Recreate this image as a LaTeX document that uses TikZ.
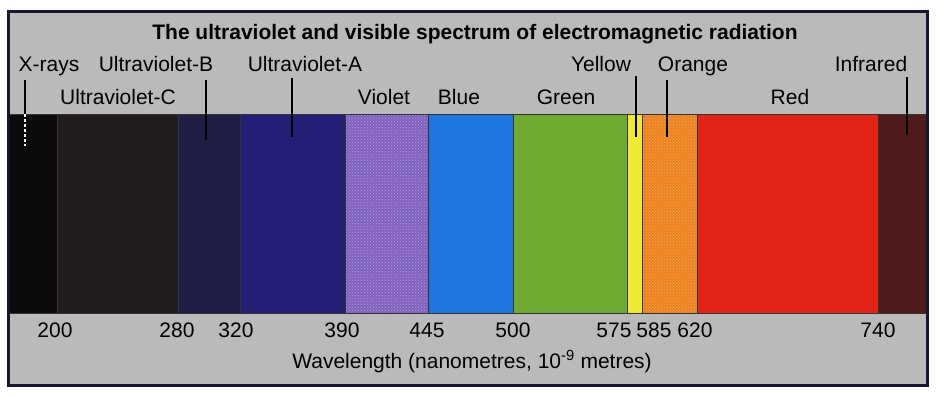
\documentclass[tikz,border=0pt]{standalone}
\usepackage{fontspec}
\usetikzlibrary{patterns}
\setmainfont{Liberation Sans}
\definecolor{bggray}{RGB}{186,186,186}
\definecolor{framecol}{RGB}{22,22,48}
\definecolor{cxray}{RGB}{12,10,12}
\definecolor{cuvc}{RGB}{32,27,30}
\definecolor{cuvb}{RGB}{32,30,68}
\definecolor{cuva}{RGB}{36,30,118}
\definecolor{cviolet}{RGB}{128,98,190}
\definecolor{cvioletdot}{RGB}{178,158,228}
\definecolor{cblue}{RGB}{30,118,222}
\definecolor{cgreen}{RGB}{112,172,52}
\definecolor{cyellow}{RGB}{240,232,52}
\definecolor{corange}{RGB}{236,128,36}
\definecolor{corangedot}{RGB}{250,180,70}
\definecolor{cred}{RGB}{225,36,22}
\definecolor{cinfra}{RGB}{78,26,26}
\tikzset{
  lbl/.style={anchor=base, inner sep=0pt, font=\fontsize{21}{25}\selectfont, text=black},
  ttl/.style={anchor=base, inner sep=0pt, font=\fontsize{21}{25}\selectfont\bfseries, text=black},
  band/.style={draw=black!80, line width=0.8pt},
  leader/.style={draw=black, line width=1.2pt},
}
\begin{document}
\begin{tikzpicture}[x=1pt,y=-1pt]
\useasboundingbox (0,0) rectangle (939,396);
\fill[white] (0,0) rectangle (939,396);
% panel
\fill[bggray] (8,12) rectangle (927,385);
% spectrum bands
\fill[band, fill=cxray]   (8,114)   rectangle (57,313);
\fill[band, fill=cuvc]    (57,114)  rectangle (178,313);
\fill[band, fill=cuvb]    (178,114) rectangle (240,313);
\fill[band, fill=cuva]    (240,114) rectangle (345,313);
\fill[band, fill=cviolet] (345,114) rectangle (428,313);
\fill[pattern=crosshatch dots, pattern color=cvioletdot] (345.5,114.5) rectangle (427.5,312.5);
\fill[band, fill=cblue]   (428,114) rectangle (513,313);
\fill[band, fill=cgreen]  (513,114) rectangle (627,313);
\fill[band, fill=cyellow] (627,114) rectangle (642,313);
\fill[band, fill=corange] (642,114) rectangle (697,313);
\fill[pattern=crosshatch dots, pattern color=corangedot] (642.5,114.5) rectangle (696.5,312.5);
\fill[band, fill=cred]    (697,114) rectangle (878,313);
\fill[band, fill=cinfra]  (878,114) rectangle (927,313);
\draw[band] (8,114) rectangle (927,313);
% frame
\draw[framecol, line width=3pt] (8,12) rectangle (927,385);
% title
\node[ttl] (title) at (475,40) {The ultraviolet and visible spectrum of electromagnetic radiation};
% upper labels
\node[lbl] (xr)  at (49,71)  {X-rays};
\node[lbl] (uvb) at (156,71) {Ultraviolet-B};
\node[lbl] (uva) at (305,71) {Ultraviolet-A};
\node[lbl] (yel) at (601,71) {Yellow};
\node[lbl] (ora) at (693,71) {Orange};
\node[lbl] (inf) at (871,71) {Infrared};
% lower labels
\node[lbl] (uvc) at (118,104) {Ultraviolet-C};
\node[lbl] (vio) at (384,104) {Violet};
\node[lbl] (blu) at (459,104) {Blue};
\node[lbl] (gre) at (566,104) {Green};
\node[lbl] (red) at (790,104) {Red};
% leader lines
\coordinate (xa) at (25,80);  \coordinate (xb) at (25,114); \coordinate (xc) at (25,146);
\draw[leader] (xa) -- (xb);
\draw[white, line width=1.2pt, dash pattern=on 3pt off 2pt] (xb) -- (xc);
\coordinate (ba) at (206,80);  \coordinate (bb) at (206,140);
\draw[leader] (ba) -- (bb);
\coordinate (aa) at (292,78);  \coordinate (ab) at (292,137);
\draw[leader] (aa) -- (ab);
\coordinate (ya) at (636,76);  \coordinate (yb) at (636,137);
\draw[leader] (ya) -- (yb);
\coordinate (oa) at (667,80);  \coordinate (ob) at (667,137);
\draw[leader] (oa) -- (ob);
\coordinate (ia) at (907,77);  \coordinate (ib) at (907,135);
\draw[leader] (ia) -- (ib);
% numbers
\node[lbl] (n200) at (55,337)  {200};
\node[lbl] (n280) at (177,337) {280};
\node[lbl] (n320) at (236,337) {320};
\node[lbl] (n390) at (342,337) {390};
\node[lbl] (n445) at (427,337) {445};
\node[lbl] (n500) at (513,337) {500};
\node[lbl] (n575) at (614,337) {575};
\node[lbl] (n585) at (654,337) {585};
\node[lbl] (n620) at (695,337) {620};
\node[lbl] (n740) at (878,337) {740};
% axis label
\node[lbl] (wl) at (472,368) {Wavelength (nanometres, 10\textsuperscript{-9} metres)};
\end{tikzpicture}
\end{document}
